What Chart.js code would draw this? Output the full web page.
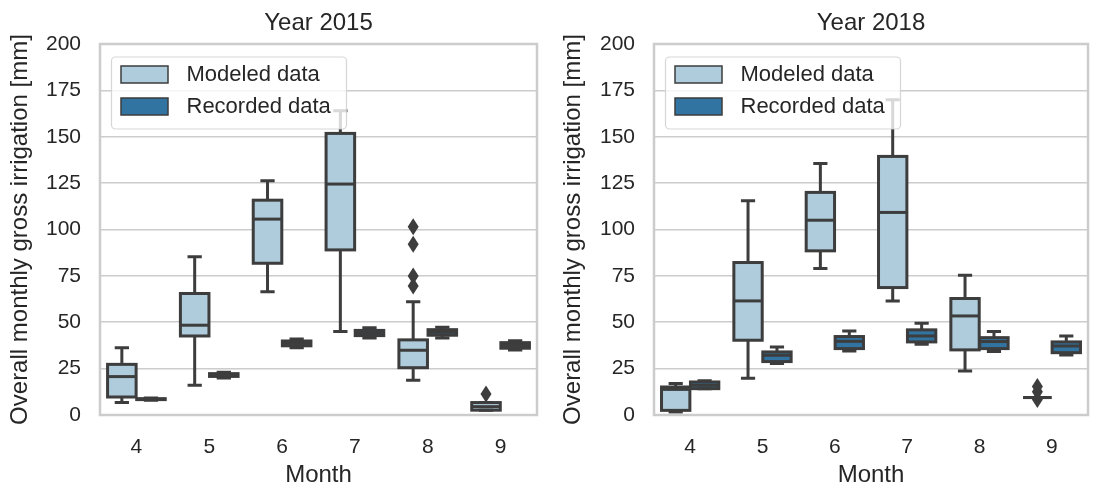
<!DOCTYPE html>
<html lang="en">
<head>
    <meta charset="UTF-8">
    <title>Monthly gross irrigation</title>
    <script src="https://cdn.jsdelivr.net/npm/chart.js@4.4.0/dist/chart.umd.min.js"></script>
    <style>
        body { margin: 0; background: #fff; }
        .panel { position: absolute; top: 0; }
    </style>
</head>
<body>
    <div class="panel" style="left:0"><canvas id="c2015" width="547" height="486"></canvas></div>
    <div class="panel" style="left:547px"><canvas id="c2018" width="548" height="486"></canvas></div>
    <script>
        // x categories
        const months = ['4', '5', '6', '7', '8', '9'];
        const yTicks = [0, 25, 50, 75, 100, 125, 150, 175, 200];

        // 2015 modeled: whisker low, q1, median, q3, whisker high, fliers
        const mod15Lo  = [6.7, 16.0, 66.5, 45.0, 18.7, 2.6];
        const mod15Q1  = [9.7, 42.6, 81.8, 89.0, 25.5, 2.6];
        const mod15Med = [20.7, 48.4, 105.6, 124.5, 34.9, 4.5];
        const mod15Q3  = [27.3, 65.5, 115.8, 151.8, 40.5, 6.7];
        const mod15Hi  = [36.3, 85.3, 126.3, 164.0, 61.0, 6.7];
        const mod15Out = [[], [], [], [], [101.5, 92.0, 75.0, 69.5], [11.3]];

        // 2015 recorded
        const rec15Lo  = [8.0, 20.0, 36.2, 41.5, 41.5, 35.0];
        const rec15Q1  = [8.3, 20.8, 37.3, 42.8, 43.0, 36.0];
        const rec15Med = [8.5, 21.5, 38.6, 44.2, 44.6, 37.5];
        const rec15Q3  = [8.8, 22.3, 39.9, 45.6, 46.0, 39.0];
        const rec15Hi  = [9.1, 23.0, 41.0, 47.0, 47.3, 40.0];

        // 2018 modeled
        const mod18Lo  = [1.6, 19.8, 79.0, 61.5, 23.7, 9.4];
        const mod18Q1  = [2.5, 40.3, 88.5, 68.7, 35.1, 9.4];
        const mod18Med = [13.8, 61.5, 105.0, 109.2, 53.4, 9.4];
        const mod18Q3  = [15.1, 82.2, 120.0, 139.4, 62.8, 9.4];
        const mod18Hi  = [17.0, 115.5, 135.6, 170.0, 75.4, 9.4];
        const mod18Out = [[], [], [], [], [], [15.3, 12.5, 8.3]];

        // 2018 recorded
        const rec18Lo  = [14.2, 27.7, 34.5, 38.1, 34.2, 32.4];
        const rec18Q1  = [14.2, 28.8, 35.8, 39.4, 35.8, 33.6];
        const rec18Med = [16.0, 32.2, 39.7, 42.6, 39.6, 37.2];
        const rec18Q3  = [17.8, 34.0, 42.3, 45.9, 41.7, 39.4];
        const rec18Hi  = [18.5, 36.7, 45.3, 49.5, 45.0, 42.6];

        const seriesNames = ['Modeled data', 'Recorded data'];
        const lightBlue = '#aeccdb';
        const darkBlue = '#3274a1';
        const lineGray = '#3d3d3d';
        const textColor = '#262626';
        const gridColor = '#cccccc';
        const fontFamily = "'Liberation Sans', Arial, sans-serif";

        Chart.defaults.font.family = fontFamily;
        Chart.defaults.color = textColor;

        // floating bar [q1, q3] per month
        function boxRange(q1, q3) {
            return q1.map((v, i) => [v, q3[i]]);
        }

        // draws outlines, whiskers, medians, fliers, spines and the legend
        const boxPlugin = {
            id: 'boxes',
            afterDatasetsDraw(chart, args, opts) {
                const ctx = chart.ctx;
                const yScale = chart.scales.y;
                const area = chart.chartArea;
                ctx.save();
                ctx.strokeStyle = lineGray;
                ctx.fillStyle = lineGray;
                ctx.lineWidth = 3;
                ctx.lineCap = 'butt';
                ctx.lineJoin = 'miter';

                opts.series.forEach((s, di) => {
                    const meta = chart.getDatasetMeta(di);
                    meta.data.forEach((bar, i) => {
                        const x = bar.x;
                        const w = bar.width;
                        const pQ1 = yScale.getPixelForValue(s.q1[i]);
                        const pQ3 = yScale.getPixelForValue(s.q3[i]);
                        const pLo = yScale.getPixelForValue(s.lo[i]);
                        const pHi = yScale.getPixelForValue(s.hi[i]);
                        const pMed = yScale.getPixelForValue(s.med[i]);

                        // whiskers and caps
                        ctx.beginPath();
                        ctx.moveTo(x, pQ3); ctx.lineTo(x, pHi);
                        ctx.moveTo(x, pQ1); ctx.lineTo(x, pLo);
                        ctx.moveTo(x - w / 4, pHi); ctx.lineTo(x + w / 4, pHi);
                        ctx.moveTo(x - w / 4, pLo); ctx.lineTo(x + w / 4, pLo);
                        ctx.stroke();

                        // box edge
                        ctx.strokeRect(x - w / 2, pQ3, w, pQ1 - pQ3);

                        // median
                        ctx.beginPath();
                        ctx.moveTo(x - w / 2, pMed); ctx.lineTo(x + w / 2, pMed);
                        ctx.stroke();

                        // fliers as thin diamonds
                        (s.out ? s.out[i] : []).forEach(v => {
                            const py = yScale.getPixelForValue(v);
                            ctx.beginPath();
                            ctx.moveTo(x, py - 8.5);
                            ctx.lineTo(x + 5.5, py);
                            ctx.lineTo(x, py + 8.5);
                            ctx.lineTo(x - 5.5, py);
                            ctx.closePath();
                            ctx.fill();
                        });
                    });
                });

                // spines
                ctx.strokeStyle = gridColor;
                ctx.lineWidth = 2.5;
                ctx.strokeRect(area.left, area.top, area.right - area.left, area.bottom - area.top);

                // legend in upper left
                const lx = area.left + 11.5;
                const ly = area.top + 13;
                ctx.beginPath();
                ctx.roundRect(lx, ly, 235, 72, 4);
                ctx.fillStyle = 'rgba(255,255,255,0.8)';
                ctx.fill();
                ctx.strokeStyle = 'rgba(204,204,204,0.8)';
                ctx.lineWidth = 1.2;
                ctx.stroke();

                const colors = [lightBlue, darkBlue];
                ctx.font = '22px ' + fontFamily;
                ctx.textBaseline = 'middle';
                ctx.textAlign = 'left';
                seriesNames.forEach((name, k) => {
                    const py = ly + 9 + k * 32;
                    ctx.fillStyle = colors[k];
                    ctx.fillRect(lx + 9.5, py, 47, 17);
                    ctx.strokeStyle = lineGray;
                    ctx.lineWidth = 1.5;
                    ctx.strokeRect(lx + 9.5, py, 47, 17);
                    ctx.fillStyle = textColor;
                    ctx.fillText(name, lx + 75, py + 9);
                });
                ctx.restore();
            }
        };

        function makeChart(id, year, modeled, recorded, yWidth, yTitlePad, rightPad) {
            return new Chart(document.getElementById(id), {
                type: 'bar',
                data: {
                    labels: months,
                    datasets: [{
                        label: seriesNames[0],
                        data: boxRange(modeled.q1, modeled.q3),
                        backgroundColor: lightBlue,
                        borderWidth: 0,
                        categoryPercentage: 0.8,
                        barPercentage: 0.98
                    }, {
                        label: seriesNames[1],
                        data: boxRange(recorded.q1, recorded.q3),
                        backgroundColor: darkBlue,
                        borderWidth: 0,
                        categoryPercentage: 0.8,
                        barPercentage: 0.98
                    }]
                },
                options: {
                    responsive: false,
                    animation: false,
                    events: [],
                    layout: { padding: { left: 0, right: rightPad, top: 0, bottom: 0 } },
                    plugins: {
                        legend: { display: false },
                        tooltip: { enabled: false },
                        boxes: { series: [modeled, recorded] }
                    },
                    scales: {
                        x: {
                            grid: { display: false },
                            border: { display: false },
                            ticks: { font: { size: 21 }, padding: 12, color: textColor },
                            title: {
                                display: true, text: 'Month', color: textColor,
                                font: { size: 24, lineHeight: 0.9 }, padding: { top: 0, bottom: 0 }
                            },
                            afterFit(scale) { scale.height = 71; }
                        },
                        xTop: {
                            type: 'category',
                            position: 'top',
                            grid: { display: false },
                            border: { display: false },
                            ticks: { display: false },
                            title: {
                                display: true, text: 'Year ' + year, color: textColor,
                                font: { size: 24 }, padding: { top: 9, bottom: 0 }
                            },
                            afterFit(scale) { scale.height = 44; }
                        },
                        y: {
                            min: 0,
                            max: 200,
                            afterBuildTicks(scale) { scale.ticks = yTicks.map(v => ({ value: v })); },
                            grid: { color: gridColor, lineWidth: 1.6, drawTicks: false },
                            border: { display: false },
                            ticks: { font: { size: 21 }, padding: 19, color: textColor },
                            title: {
                                display: true, text: 'Overall monthly gross irrigation [mm]', color: textColor,
                                font: { size: 24 }, padding: { top: yTitlePad, bottom: 0 }
                            },
                            afterFit(scale) { scale.width = yWidth; }
                        }
                    }
                },
                plugins: [boxPlugin]
            });
        }

        makeChart('c2015', 2015,
            { lo: mod15Lo, q1: mod15Q1, med: mod15Med, q3: mod15Q3, hi: mod15Hi, out: mod15Out },
            { lo: rec15Lo, q1: rec15Q1, med: rec15Med, q3: rec15Q3, hi: rec15Hi },
            100, 5.6, 10);

        makeChart('c2018', 2018,
            { lo: mod18Lo, q1: mod18Q1, med: mod18Med, q3: mod18Q3, hi: mod18Hi, out: mod18Out },
            { lo: rec18Lo, q1: rec18Q1, med: rec18Med, q3: rec18Q3, hi: rec18Hi },
            107, 12, 7);
    </script>
</body>
</html>
